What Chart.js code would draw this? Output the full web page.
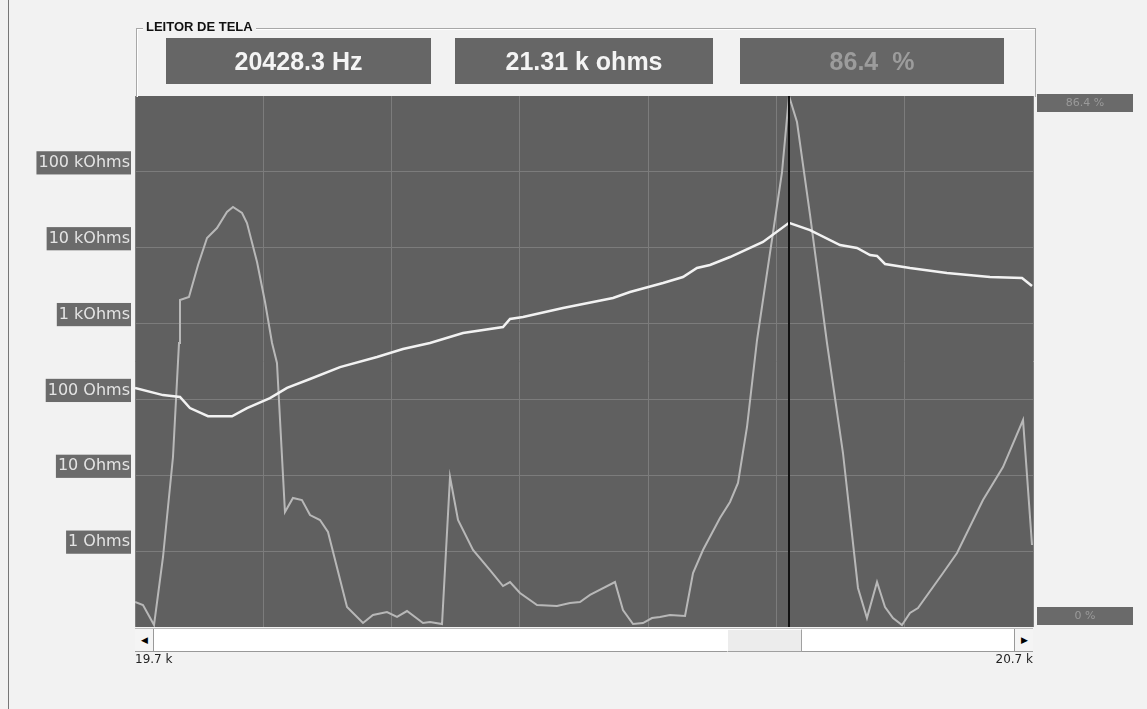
<!DOCTYPE html>
<html>
<head>
<meta charset="utf-8">
<script src="https://cdn.jsdelivr.net/npm/chart.js@4.4.1/dist/chart.umd.min.js"></script>
<style>
  body { margin: 0; background: #f2f2f2; width: 1147px; height: 709px; overflow: hidden; position: relative; font-family: "Liberation Sans", Arial, sans-serif; }
  #wrap { position: absolute; left: 0; top: 0; width: 1147px; height: 709px; }
  .frame { position: absolute; left: 136px; top: 28px; width: 898px; height: 68px; border: 1px solid #a8a8a8; border-bottom: none; box-shadow: inset 1px 1px 0 #fff; }
  .caption { position: absolute; left: 143px; top: 19px; padding: 0 3px; background: #f2f2f2; font: bold 13px "Liberation Sans Narrow", "Liberation Sans", sans-serif; color: #111; }
  .readout { position: absolute; top: 38px; height: 46px; background: #666; color: #f4f4f4; font: bold 25px "Liberation Sans", Arial, sans-serif; line-height: 46px; text-align: center; }
  .scroll { position: absolute; left: 135px; top: 628px; width: 898px; height: 22px; background: #fff; border-top: 1px solid #bbb; border-bottom: 1px solid #999; }
  .btn { position: absolute; top: 0; width: 18px; height: 22px; background: #f4f4f4; border-right: 1px solid #999; font-size: 9px; line-height: 22px; text-align: center; color: #000; }
  .thumb { position: absolute; top: 0; height: 21px; background: #ececec; border: 1px solid #a0a0a0; border-top-color: #fff; border-left-color: #fff; }
  .side { position: absolute; left: 8px; top: 0; width: 1px; height: 709px; background: #777; }
</style>
</head>
<body>
<div class="side"></div>
<div id="wrap"><canvas id="chart"></canvas></div>
<div class="frame"></div>
<div class="caption">LEITOR DE TELA</div>
<div class="readout" style="left:166px;width:265px;">20428.3 Hz</div>
<div class="readout" style="left:455px;width:258px;">21.31 k ohms</div>
<div class="readout" style="left:740px;width:264px;color:#9c9c9c;">86.4&nbsp; %</div>
<div class="scroll">
  <div class="btn" style="left:0;">&#9664;</div>
  <div class="thumb" style="left:592px;width:73px;"></div>
  <div class="btn" style="right:0;border-right:none;border-left:1px solid #999;">&#9654;</div>
</div>
<script>
// frequency range / grid
const xMin = 19700;
const xMax = 20700;
const xGridFreqs = [19700, 19842.9, 19985.7, 20128.6, 20271.4, 20414.3, 20557.1, 20700];
const xEndLabels = ['19.7 k', '20.7 k'];

// impedance axis
const yTickValues = [1, 10, 100, 1000, 10000, 100000];
const yTickLabels = ['1 Ohms', '10 Ohms', '100 Ohms', '1 kOhms', '10 kOhms', '100 kOhms'];

// cursor readout
const cursorFreq = 20428.3;
const pctMax = 86.4;
const pctLabels = ['86.4 %', '0 %'];

// impedance curve (white)
const impFreq = [19700, 19731.2, 19750.1, 19761.2, 19781.3, 19808.0, 19824.7, 19850.3, 19869.3, 19894.9,
  19928.3, 19969.5, 19998.4, 20028.5, 20065.3, 20109.8, 20117.6, 20132.1, 20176.6, 20232.3,
  20251.2, 20288.0, 20310.2, 20325.8, 20340.3, 20362.6, 20399.3, 20428.3, 20451.7, 20485.1,
  20504.0, 20518.5, 20526.3, 20535.2, 20563.0, 20604.2, 20652.1, 20687.8, 20698.9];
const impOhms = [142, 114, 108, 77, 60, 60, 77, 104, 142, 186,
  267, 362, 462, 554, 751, 901, 1148, 1222, 1604, 2173,
  2606, 3427, 4111, 5400, 5916, 7540, 11890, 21310, 17100, 10860,
  9910, 8010, 7780, 6100, 5400, 4645, 4111, 3990, 3126];

// percent curve (gray)
const pctFreq = [19700, 19708.9, 19721.2, 19731.2, 19742.3, 19749.0, 19750.1, 19760.1, 19770.2, 19780.2,
  19791.3, 19802.4, 19809.1, 19819.2, 19824.7, 19835.9, 19844.8, 19852.6, 19858.1, 19867.0,
  19875.9, 19885.9, 19894.9, 19906.0, 19914.9, 19936.1, 19953.9, 19965.0, 19980.6, 19991.8,
  20002.9, 20020.7, 20028.5, 20041.9, 20050.8, 20059.7, 20076.4, 20095.3, 20109.8, 20117.6,
  20128.7, 20147.7, 20169.9, 20184.4, 20195.5, 20206.7, 20234.5, 20243.4, 20254.6, 20265.7,
  20275.7, 20284.6, 20295.8, 20312.5, 20321.4, 20332.5, 20351.4, 20362.6, 20371.5, 20381.5,
  20392.7, 20420.5, 20428.3, 20437.2, 20451.7, 20470.6, 20488.4, 20505.1, 20515.1, 20526.3,
  20535.2, 20544.1, 20554.1, 20563.0, 20571.9, 20599.8, 20615.4, 20644.3, 20666.6, 20688.9,
  20698.9];
const pctValue = [4.07, 3.58, 0.33, 11.39, 27.66, 46.21, 53.21, 53.69, 58.90, 63.29,
  64.92, 67.52, 68.34, 67.36, 65.73, 59.39, 52.88, 46.21, 42.96, 18.71,
  20.99, 20.66, 18.22, 17.41, 15.46, 3.25, 0.65, 1.95, 2.44, 1.63,
  2.60, 0.65, 0.81, 0.49, 24.41, 17.41, 12.53, 9.27, 6.67, 7.32,
  5.53, 3.58, 3.42, 3.91, 4.07, 5.21, 7.32, 2.77, 0.49, 0.65,
  1.46, 1.63, 1.95, 1.79, 8.79, 12.53, 17.74, 20.34, 23.43, 32.54,
  46.70, 74.03, 86.4, 82.17, 67.04, 46.21, 28.31, 6.35, 1.46, 7.32,
  3.25, 1.46, 0.33, 2.28, 3.09, 8.79, 12.04, 20.66, 26.03, 33.68,
  13.34];

const plotBg = {
  id: 'plotBg',
  beforeDraw(chart) {
    const { ctx, chartArea: a } = chart;
    ctx.save();
    ctx.fillStyle = '#606060';
    ctx.fillRect(a.left, a.top, a.right - a.left, a.bottom - a.top);
    ctx.restore();
  }
};

const cursorLine = {
  id: 'cursorLine',
  afterDatasetsDraw(chart) {
    const { ctx, chartArea: a } = chart;
    const x = Math.round(chart.scales.x.getPixelForValue(cursorFreq));
    ctx.save();
    ctx.strokeStyle = '#111';
    ctx.lineWidth = 2;
    ctx.beginPath();
    ctx.moveTo(x, a.top);
    ctx.lineTo(x, a.bottom);
    ctx.stroke();
    ctx.restore();
  }
};

// the two percent labels on the right side
const pctSide = {
  id: 'pctSide',
  afterDraw(chart) {
    const { ctx, chartArea: a } = chart;
    const s = chart.scales.yPct;
    const rows = [[s.getPixelForValue(pctMax) + 7, pctLabels[0]], [s.getPixelForValue(0) - 11, pctLabels[1]]];
    ctx.save();
    ctx.font = '11px "DejaVu Sans", sans-serif';
    ctx.textAlign = 'center';
    ctx.textBaseline = 'middle';
    rows.forEach(([y, txt]) => {
      ctx.fillStyle = '#6a6a6a';
      ctx.fillRect(a.right + 4, y - 9, 96, 18);
      ctx.fillStyle = '#9a9a9a';
      ctx.fillText(txt, a.right + 52, y);
    });
    ctx.restore();
  }
};

new Chart(document.getElementById('chart'), {
  type: 'line',
  data: {
    datasets: [{
      data: impFreq.map((f, i) => ({ x: f, y: impOhms[i] })),
      yAxisID: 'y',
      borderColor: '#f2f2f2',
      borderWidth: 2.5,
      pointRadius: 0,
      tension: 0
    }, {
      data: pctFreq.map((f, i) => ({ x: f, y: pctValue[i] })),
      yAxisID: 'yPct',
      borderColor: '#b8b8b8',
      borderWidth: 2,
      pointRadius: 0,
      tension: 0
    }]
  },
  options: {
    responsive: true,
    maintainAspectRatio: false,
    animation: false,
    layout: { padding: { top: 96, right: 114, left: 0, bottom: 0 } },
    plugins: { legend: { display: false }, tooltip: { enabled: false } },
    scales: {
      x: {
        type: 'linear',
        min: xMin,
        max: xMax,
        afterBuildTicks: (s) => { s.ticks = xGridFreqs.map(v => ({ value: v })); },
        afterFit: (s) => { s.height = 82; },
        border: { display: false },
        grid: { color: '#7c7c7c', drawTicks: false },
        ticks: {
          autoSkip: false,
          maxRotation: 0,
          align: 'inner',
          padding: 26,
          color: '#222',
          font: { family: 'DejaVu Sans', size: 12 },
          callback: (v, i, t) => i === 0 ? xEndLabels[0] : (i === t.length - 1 ? xEndLabels[1] : '')
        }
      },
      y: {
        type: 'logarithmic',
        position: 'left',
        min: 0.1,
        max: 1e6,
        afterBuildTicks: (s) => { s.ticks = yTickValues.map(v => ({ value: v })); },
        afterFit: (s) => { s.width = 135; },
        border: { display: false },
        grid: { color: '#7c7c7c', drawTicks: false },
        ticks: {
          autoSkip: false,
          padding: 5,
          labelOffset: -9,
          color: '#e4e4e4',
          font: { family: 'DejaVu Sans', size: 16 },
          showLabelBackdrop: true,
          backdropColor: '#6b6b6b',
          backdropPadding: { top: 2, bottom: 2, left: 2, right: 1 },
          callback: (v, i) => yTickLabels[i]
        }
      },
      yPct: {
        type: 'linear',
        display: false,
        min: 0,
        max: pctMax
      }
    }
  },
  plugins: [plotBg, cursorLine, pctSide]
});
</script>
</body>
</html>
